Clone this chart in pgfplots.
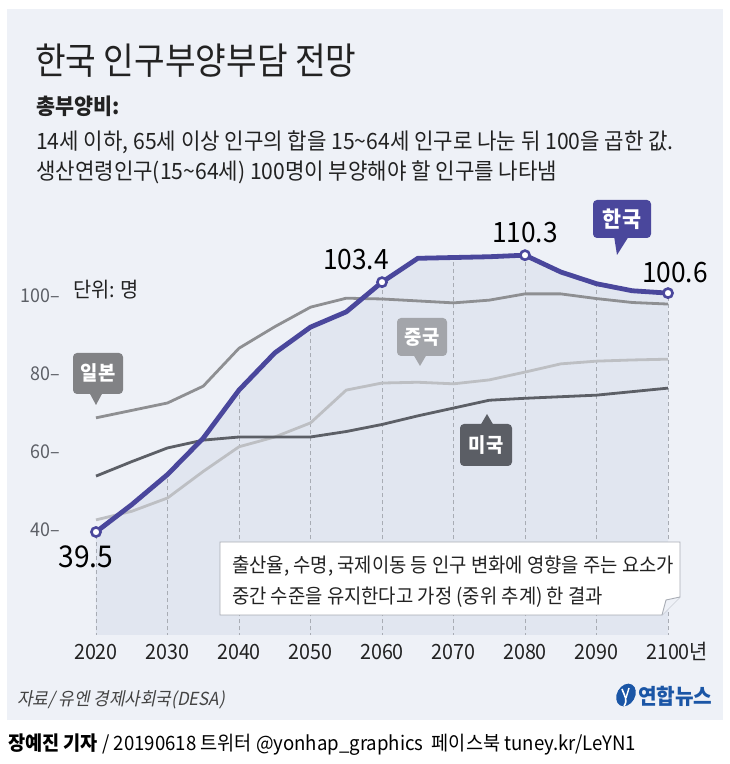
\documentclass[border=0pt]{standalone}
\usepackage{fontspec}
\setmainfont{Noto Sans CJK KR}[FakeStretch=0.94]
\newfontfamily\titlefont{Noto Sans CJK KR}[FakeStretch=0.9]
\newfontfamily\srcfont{Noto Sans CJK KR}[FakeStretch=0.94,FakeSlant=0.2]
\usepackage{pgfplots}
\pgfplotsset{compat=1.18}
\definecolor{panel}{HTML}{EEF1F7}
\definecolor{areafill}{HTML}{E1E6F0}
\definecolor{korea}{HTML}{4A479C}
\definecolor{japan}{HTML}{8E8F92}
\definecolor{china}{HTML}{BDBFC3}
\definecolor{usa}{HTML}{5C5F66}
\definecolor{gridc}{HTML}{A8ACB4}
\definecolor{cjapan}{HTML}{818285}
\definecolor{cchina}{HTML}{A3A5AA}
\definecolor{cusa}{HTML}{5B5E65}
\definecolor{ynblue}{HTML}{1B56A6}
\definecolor{txt}{HTML}{222222}
\begin{document}
\begin{tikzpicture}
\useasboundingbox (0,0) rectangle (730pt,764pt);
\fill[white] (0,0) rectangle (730pt,764pt);
\begin{scope}[x=1pt,y=-1pt,shift={(0pt,764pt)}]
  \fill[panel] (7,9) rectangle (723,720);
  \node[anchor=west,inner sep=0pt,text=txt] at (35,61) {\fontsize{37}{40}\selectfont\titlefont 한국 인구부양부담 전망};
  \node[anchor=west,inner sep=0pt,text=txt] at (36,106) {\fontsize{22}{24}\selectfont\bfseries 총부양비:};
  \node[anchor=west,inner sep=0pt,text=txt] at (36,142) {\fontsize{22.5}{24}\selectfont 14세 이하, 65세 이상 인구의 합을 15\textasciitilde64세 인구로 나눈 뒤 100을 곱한 값.};
  \node[anchor=west,inner sep=0pt,text=txt] at (36,172) {\fontsize{22.5}{24}\selectfont 생산연령인구(15\textasciitilde64세) 100명이 부양해야 할 인구를 나타냄};
\end{scope}
\begin{axis}[
  at={(60.25pt,129pt)}, anchor=south west,
  x=7.15pt, y=3.91pt,
  xmin=2015, xmax=2105, ymin=13.16, ymax=120,
  axis x line*=bottom, axis y line*=left,
  axis line style={draw=none}, tick style={draw=none}, major tick length=0pt,
  xtick={2020,2030,...,2100},
  xticklabels={2020,2030,2040,2050,2060,2070,2080,2090,2100\rlap{년}},
  xticklabel style={anchor=base, yshift=-25pt, font=\fontsize{21}{21}\selectfont, text=txt},
  ytick={40,60,80,100},
  yticklabels={40–,60–,80–,100–},
  yticklabel style={anchor=east, inner sep=0pt, xshift=0pt, font=\fontsize{19}{19}\selectfont, text=usa},
  clip=true,
]
\addplot[fill=areafill, draw=none] coordinates {(2020,39.5)(2025,46.5)(2030,54.2)(2035,63.5)(2040,75.8)(2045,85.3)(2050,91.9)(2055,95.8)(2060,103.4)(2065,109.5)(2070,109.7)(2075,109.9)(2080,110.3)(2085,106.0)(2090,103.0)(2095,101.2)(2100,100.6)} \closedcycle;
\addplot[gridc, line width=0.8pt, dash pattern=on 4pt off 3pt, unbounded coords=jump] coordinates {
(2020,0)(2020,39.5)(2020,nan)
(2030,0)(2030,54.2)(2030,nan)
(2040,0)(2040,75.8)(2040,nan)
(2050,0)(2050,91.9)(2050,nan)
(2060,0)(2060,103.4)(2060,nan)
(2070,0)(2070,109.7)(2070,nan)
(2080,0)(2080,110.3)(2080,nan)
(2090,0)(2090,103.0)(2090,nan)
(2100,0)(2100,100.6)};
\addplot[china, line width=2.8pt, line join=round] coordinates {(2020,42.6)(2025,44.8)(2030,48.2)(2035,55.0)(2040,61.3)(2045,63.8)(2050,67.4)(2055,75.8)(2060,77.6)(2065,77.8)(2070,77.4)(2075,78.4)(2080,80.4)(2085,82.5)(2090,83.2)(2095,83.5)(2100,83.7)};
\addplot[usa, line width=2.8pt, line join=round] coordinates {(2020,53.8)(2025,57.5)(2030,61.0)(2035,63.0)(2040,63.8)(2045,63.8)(2050,63.8)(2055,65.2)(2060,67.0)(2065,69.2)(2070,71.2)(2075,73.2)(2080,73.7)(2085,74.1)(2090,74.5)(2095,75.4)(2100,76.3)};
\addplot[japan, line width=2.8pt, line join=round] coordinates {(2020,68.7)(2025,70.6)(2030,72.5)(2035,76.8)(2040,86.5)(2045,92.0)(2050,97.0)(2055,99.3)(2060,99.1)(2065,98.6)(2070,98.1)(2075,98.8)(2080,100.4)(2085,100.4)(2090,99.2)(2095,98.2)(2100,97.8)};
\addplot[korea, line width=4.8pt, line join=round] coordinates {(2020,39.5)(2025,46.5)(2030,54.2)(2035,63.5)(2040,75.8)(2045,85.3)(2050,91.9)(2055,95.8)(2060,103.4)(2065,109.5)(2070,109.7)(2075,109.9)(2080,110.3)(2085,106.0)(2090,103.0)(2095,101.2)(2100,100.6)};
\addplot[only marks, mark=*, mark size=4.6pt, mark options={fill=white, draw=korea, line width=2.6pt}] coordinates {(2020,39.5)(2060,103.4)(2080,110.3)(2100,100.6)};
\end{axis}
\begin{scope}[x=1pt,y=-1pt,shift={(0pt,764pt)}]
  % unit label
  \node[anchor=west,inner sep=0pt,text=txt] at (73,290) {\fontsize{21}{22}\selectfont 단위: 명};
  % value labels
  \node[inner sep=0pt,text=black] at (86,557) {\fontsize{30}{30}\selectfont 39.5};
  \node[inner sep=0pt,text=black] at (356,260) {\fontsize{28}{28}\selectfont 103.4};
  \node[inner sep=0pt,text=black] at (525,233) {\fontsize{28}{28}\selectfont 110.3};
  \node[inner sep=0pt,text=black] at (675,273) {\fontsize{28}{28}\selectfont 100.6};
  % callouts
  \fill[korea, rounded corners=4pt] (593,200) rectangle (651,238);
  \fill[korea] (614,236) -- (629,236) -- (617,255) -- cycle;
  \node[text=white,inner sep=0pt] at (622,219) {\fontsize{22}{22}\selectfont\bfseries 한국};
  \fill[cchina, rounded corners=4pt] (397,318) rectangle (447,356);
  \fill[cchina] (413,354) -- (427,354) -- (420,366) -- cycle;
  \node[text=white,inner sep=0pt] at (422,337) {\fontsize{20}{20}\selectfont\bfseries 중국};
  \fill[cjapan, rounded corners=4pt] (73,353) rectangle (123,394);
  \fill[cjapan] (89,392) -- (103,392) -- (96,405) -- cycle;
  \node[text=white,inner sep=0pt] at (98,373) {\fontsize{20}{20}\selectfont\bfseries 일본};
  \fill[cusa, rounded corners=4pt] (460,424) rectangle (512,466);
  \fill[cusa] (480,426) -- (494,426) -- (487,414) -- cycle;
  \node[text=white,inner sep=0pt] at (486,445) {\fontsize{20}{20}\selectfont\bfseries 미국};
  % note box
  \filldraw[fill=white, draw=gridc, line width=0.9pt] (220,542) -- (680,542) -- (680,597) -- (662,615) -- (220,615) -- cycle;
  \filldraw[fill=panel, draw=gridc, line width=0.9pt] (662,615) -- (666,600) -- (680,597);
  \node[anchor=west,inner sep=0pt,text=txt] at (232,566) {\fontsize{20}{22}\selectfont 출산율, 수명, 국제이동 등 인구 변화에 영향을 주는 요소가};
  \node[anchor=west,inner sep=0pt,text=txt] at (232,597) {\fontsize{20}{22}\selectfont 중간 수준을 유지한다고 가정 (중위 추계) 한 결과};
  % source
  \node[anchor=west,inner sep=0pt,text=txt!85] at (17,700) {\fontsize{18}{20}\selectfont\srcfont 자료/ 유엔 경제사회국(DESA)};
  % logo
  \fill[ynblue, rotate around={-30:(626,695)}] (626,695) ellipse (9 and 12);
  \draw[white, line width=1.6pt] (622,689) .. controls (625,697) and (628,700) .. (624,706);
  \draw[white, line width=1.4pt] (629,688) -- (626,698);
  \node[anchor=west,inner sep=0pt,text=ynblue] at (638,696) {\fontsize{21.5}{22}\selectfont\bfseries 연합뉴스};
  % credit
  \node[anchor=west,inner sep=0pt,text=black] at (8,745) {\fontsize{19.8}{22}\selectfont{\bfseries 장예진 기자} / 20190618 트위터 @yonhap\_graphics \ 페이스북 tuney.kr/LeYN1};
\end{scope}
\end{tikzpicture}
\end{document}
